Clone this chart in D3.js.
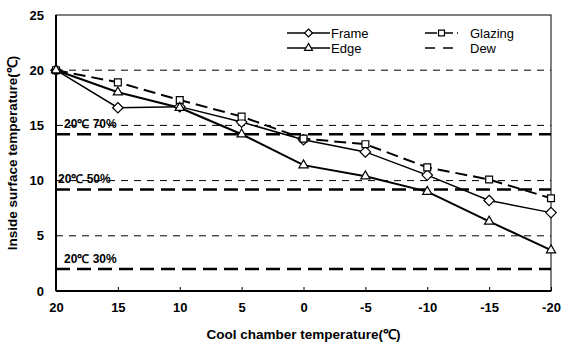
<!DOCTYPE html>
<html>
<head>
<meta charset="utf-8">
<title>Inside surface temperature</title>
<script src="https://cdn.jsdelivr.net/npm/d3@7"></script>
<style>
  body { margin: 0; background: #fff; }
  text { font-family: "Liberation Sans", Arial, sans-serif; }
</style>
</head>
<body>
<script>
// chart data
var chamber = ["20", "15", "10", "5", "0", "-5", "-10", "-15", "-20"];
var frame   = [20, 16.6, 16.7, 15.3, 13.7, 12.6, 10.5, 8.2, 7.1];
var glazing = [20, 18.9, 17.3, 15.8, 13.8, 13.3, 11.2, 10.1, 8.4];
var edge    = [20, 18.0, 16.6, 14.2, 11.4, 10.4, 9.0, 6.3, 3.7];
var dewPoints = [14.2, 9.2, 2.0];
var dewLabels = ["20\u2103 70%", "20\u2103 50%", "20\u2103 30%"];
var yTicks = [0, 5, 10, 15, 20, 25];

var w = 564, h = 349;
var pLeft = 56, pRight = 551, pTop = 15, pBottom = 291;

var svg = d3.select("body").append("svg")
    .attr("width", w)
    .attr("height", h);

var x = d3.scalePoint().domain(chamber).range([pLeft, pRight]);
var y = d3.scaleLinear().domain([0, 25]).range([pBottom, pTop]);

// thin dashed gridlines
svg.selectAll("line.grid")
    .data([5, 10, 15, 20])
    .enter().append("line")
    .attr("class", "grid")
    .attr("x1", pLeft).attr("x2", pRight)
    .attr("y1", function(d){ return y(d); })
    .attr("y2", function(d){ return y(d); })
    .attr("stroke", "#000")
    .attr("stroke-width", 1)
    .attr("stroke-dasharray", "7,6");

// dew point lines (thick dashed)
svg.selectAll("line.dew")
    .data(dewPoints)
    .enter().append("line")
    .attr("class", "dew")
    .attr("x1", pLeft).attr("x2", pRight)
    .attr("y1", function(d){ return y(d); })
    .attr("y2", function(d){ return y(d); })
    .attr("stroke", "#000")
    .attr("stroke-width", 2.5)
    .attr("stroke-dasharray", "14,7");

// plot frame
svg.append("rect")
    .attr("x", pLeft).attr("y", pTop)
    .attr("width", pRight - pLeft).attr("height", pBottom - pTop)
    .attr("fill", "none")
    .attr("stroke", "#000")
    .attr("stroke-width", 1);
svg.append("line")
    .attr("x1", pLeft).attr("x2", pLeft).attr("y1", pTop).attr("y2", pBottom)
    .attr("stroke", "#000").attr("stroke-width", 2);
svg.append("line")
    .attr("x1", pLeft).attr("x2", pRight).attr("y1", pBottom).attr("y2", pBottom)
    .attr("stroke", "#000").attr("stroke-width", 2);

// x axis ticks (inside) and labels
var xAxis = d3.axisBottom(x).tickSize(-4).tickPadding(12);
var gx = svg.append("g")
    .attr("transform", "translate(0," + pBottom + ")")
    .call(xAxis);
gx.select(".domain").remove();
gx.selectAll("text")
    .attr("font-size", "13px")
    .attr("font-weight", "bold")
    .attr("fill", "#000");

// y axis labels
var yAxis = d3.axisLeft(y).tickValues(yTicks).tickSize(0).tickPadding(12);
var gy = svg.append("g")
    .attr("transform", "translate(" + pLeft + ",0)")
    .call(yAxis);
gy.select(".domain").remove();
gy.selectAll("text")
    .attr("font-size", "13px")
    .attr("font-weight", "bold")
    .attr("fill", "#000");

// dew labels
var labelPos = [[64, y(14.2) - 6], [58, y(9.2) - 6], [64, y(2.0) - 6]];
svg.selectAll("text.dewlabel")
    .data(dewLabels)
    .enter().append("text")
    .attr("class", "dewlabel")
    .text(function(d){ return d; })
    .attr("x", function(d, i){ return labelPos[i][0]; })
    .attr("y", function(d, i){ return labelPos[i][1]; })
    .attr("font-size", "12px")
    .attr("font-weight", "bold")
    .attr("fill", "#000");

// series lines
var line = d3.line()
    .x(function(d, i){ return x(chamber[i]); })
    .y(function(d){ return y(d); });

svg.append("path").datum(frame).attr("d", line)
    .attr("fill", "none").attr("stroke", "#000").attr("stroke-width", 1.5);
svg.append("path").datum(edge).attr("d", line)
    .attr("fill", "none").attr("stroke", "#000").attr("stroke-width", 2);
svg.append("path").datum(glazing).attr("d", line)
    .attr("fill", "none").attr("stroke", "#000").attr("stroke-width", 2)
    .attr("stroke-dasharray", "12,6");

// markers
var diamond = d3.symbol().type(d3.symbolDiamond2).size(70);
var square = d3.symbol().type(d3.symbolSquare2).size(60);
var tri = d3.symbol().type(d3.symbolTriangle2).size(60);

function drawMarks(data, sym) {
    svg.append("g").selectAll("path")
        .data(data)
        .enter().append("path")
        .attr("d", sym)
        .attr("transform", function(d, i){
            return "translate(" + x(chamber[i]) + "," + y(d) + ")";
        })
        .attr("fill", "#fff")
        .attr("stroke", "#000")
        .attr("stroke-width", 1.2);
}
drawMarks(frame, diamond);
drawMarks(glazing, square);
drawMarks(edge, tri);

// legend
var leg = svg.append("g");
function legendItem(lx, ly, len, dash, sym, label, tx) {
    leg.append("line")
        .attr("x1", lx).attr("x2", lx + len).attr("y1", ly).attr("y2", ly)
        .attr("stroke", "#000").attr("stroke-width", 1.5)
        .attr("stroke-dasharray", dash);
    if (sym) {
        leg.append("path")
            .attr("d", sym)
            .attr("transform", "translate(" + (lx + len / 2) + "," + ly + ")")
            .attr("fill", "#fff").attr("stroke", "#000").attr("stroke-width", 1.2);
    }
    leg.append("text")
        .text(label)
        .attr("x", tx).attr("y", ly + 5)
        .attr("font-size", "13px")
        .attr("fill", "#000");
}
legendItem(287, 33, 43, null, d3.symbol().type(d3.symbolDiamond2).size(40), "Frame", 331);
legendItem(287, 48, 43, null, d3.symbol().type(d3.symbolTriangle2).size(45), "Edge", 331);
legendItem(425, 33, 33, "12,4", d3.symbol().type(d3.symbolSquare2).size(45), "Glazing", 470);
legendItem(425, 48, 33, "10,8", null, "Dew", 470);

// axis titles
svg.append("text")
    .text("Cool chamber temperature(\u2103)")
    .attr("x", (pLeft + pRight) / 2)
    .attr("y", 339)
    .attr("text-anchor", "middle")
    .attr("font-size", "13.5px")
    .attr("font-weight", "bold")
    .attr("fill", "#000");
svg.append("text")
    .text("Inside surface temperature(\u2103)")
    .attr("transform", "translate(17," + ((pTop + pBottom) / 2) + ") rotate(-90)")
    .attr("text-anchor", "middle")
    .attr("font-size", "13.5px")
    .attr("font-weight", "bold")
    .attr("fill", "#000");
</script>
</body>
</html>
